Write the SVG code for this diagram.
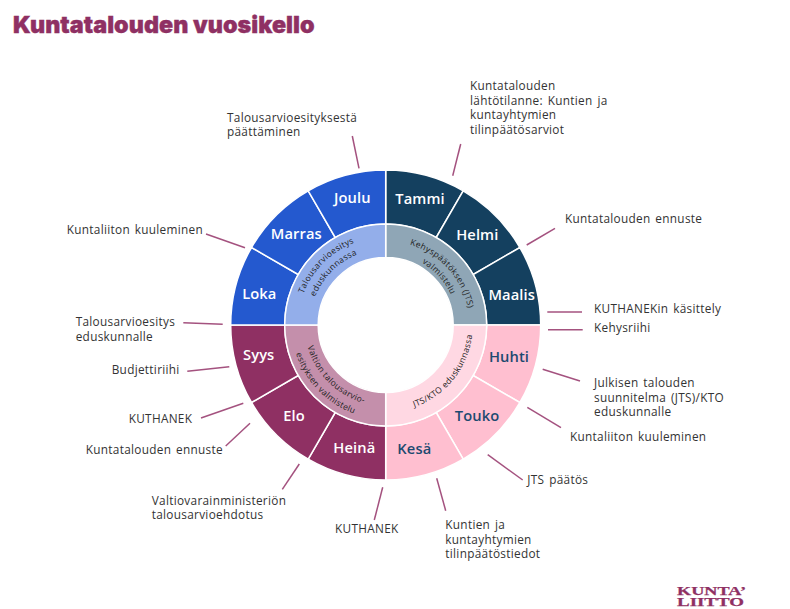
<svg xmlns="http://www.w3.org/2000/svg" width="790" height="609" viewBox="0 0 790 609">
<style>
.m{font:600 14.7px "Open Sans","Liberation Sans",sans-serif;fill:#fff;text-anchor:middle;letter-spacing:.1px}
.p{fill:#1d4a70}
.l{font:400 11.8px "Open Sans","Liberation Sans",sans-serif;fill:#333;letter-spacing:.3px;word-spacing:1.5px}
.c{font:400 8.5px "Open Sans","Liberation Sans",sans-serif;fill:#222;text-anchor:middle;letter-spacing:.35px}
.w{stroke:#fff;stroke-width:1.5}
.db{fill:#14405f}.bl{fill:#2459cf}.pl{fill:#8f3063}.pk{fill:#ffbfd0}
#connectors line{stroke:#a4527f;stroke-width:1.5}
</style>
<defs>
<path id="trA" d="M385.7 241A84 84 0 0 1 469.7 325"/>
<path id="trB" d="M385.7 253A72 72 0 0 1 457.7 325"/>
<path id="brA" d="M385.7 412A87 87 0 0 0 472.7 325"/>
<path id="blA" d="M304.7 325A81 81 0 0 0 385.7 406"/>
<path id="blB" d="M291.7 325A94 94 0 0 0 385.7 419"/>
<path id="tlA" d="M297.7 325A88 88 0 0 1 385.7 237"/>
<path id="tlB" d="M309.7 325A76 76 0 0 1 385.7 249"/>
</defs>
<rect width="790" height="609" fill="#fff"/>
<text x="13" y="32.5" style="font:900 23.3px Inter,'Liberation Sans',sans-serif;fill:#8f3063;stroke:#8f3063;stroke-width:.4;letter-spacing:.05px">Kuntatalouden vuosikello</text>

<g id="connectors">
<line x1="352.3" y1="136" x2="359" y2="168.3"/>
<line x1="460.7" y1="144" x2="452.7" y2="175.7"/>
<line x1="555" y1="228.3" x2="526.7" y2="245"/>
<line x1="547.3" y1="312" x2="582" y2="312"/>
<line x1="548" y1="329.7" x2="582.7" y2="329.7"/>
<line x1="542.7" y1="369.3" x2="580" y2="381"/>
<line x1="527.3" y1="407.3" x2="561" y2="427.7"/>
<line x1="487.7" y1="454.7" x2="522.7" y2="480"/>
<line x1="436.7" y1="478.3" x2="445.7" y2="510.7"/>
<line x1="382.7" y1="487.3" x2="374.3" y2="520"/>
<line x1="299.3" y1="464" x2="282.3" y2="489.3"/>
<line x1="250" y1="423.3" x2="225.7" y2="446"/>
<line x1="243.3" y1="403.3" x2="201" y2="418"/>
<line x1="229.3" y1="366.7" x2="187.3" y2="371.3"/>
<line x1="183.3" y1="322.7" x2="222.7" y2="324.3"/>
<line x1="206" y1="234" x2="245" y2="247.7"/>
</g>

<g id="tammi"><path class="db w" d="M385.7 170A155 155 0 0 1 463.2 190.8L436.2 237.5A101 101 0 0 0 385.7 224Z"/><text class="m" x="420" y="203.5">Tammi</text></g>
<g id="helmi"><path class="db w" d="M463.2 190.8A155 155 0 0 1 519.9 247.5L473.2 274.5A101 101 0 0 0 436.2 237.5Z"/><text class="m" x="477.3" y="239.5">Helmi</text></g>
<g id="maalis"><path class="db w" d="M519.9 247.5A155 155 0 0 1 540.7 325H486.7A101 101 0 0 0 473.2 274.5Z"/><text class="m" x="511.7" y="300">Maalis</text></g>
<g id="huhti"><path class="pk w" d="M540.7 325A155 155 0 0 1 519.9 402.5L473.2 375.5A101 101 0 0 0 486.7 325Z"/><text class="m p" x="509" y="361.7">Huhti</text></g>
<g id="touko"><path class="pk w" d="M519.9 402.5A155 155 0 0 1 463.2 459.2L436.2 412.5A101 101 0 0 0 473.2 375.5Z"/><text class="m p" x="477" y="420.7">Touko</text></g>
<g id="kesa"><path class="pk w" d="M463.2 459.2A155 155 0 0 1 385.7 480V426A101 101 0 0 0 436.2 412.5Z"/><text class="m p" x="414.3" y="453.7">Kesä</text></g>
<g id="heina"><path class="pl w" d="M385.7 480A155 155 0 0 1 308.2 459.2L335.2 412.5A101 101 0 0 0 385.7 426Z"/><text class="m" x="354.3" y="453.3">Heinä</text></g>
<g id="elo"><path class="pl w" d="M308.2 459.2A155 155 0 0 1 251.5 402.5L298.2 375.5A101 101 0 0 0 335.2 412.5Z"/><text class="m" x="294" y="420.7">Elo</text></g>
<g id="syys"><path class="pl w" d="M251.5 402.5A155 155 0 0 1 230.7 325H284.7A101 101 0 0 0 298.2 375.5Z"/><text class="m" x="258.7" y="360">Syys</text></g>
<g id="loka"><path class="bl w" d="M230.7 325A155 155 0 0 1 251.5 247.5L298.2 274.5A101 101 0 0 0 284.7 325Z"/><text class="m" x="259.3" y="299.3">Loka</text></g>
<g id="marras"><path class="bl w" d="M251.5 247.5A155 155 0 0 1 308.2 190.8L335.2 237.5A101 101 0 0 0 298.2 274.5Z"/><text class="m" x="296.3" y="239">Marras</text></g>
<g id="joulu"><path class="bl w" d="M308.2 190.8A155 155 0 0 1 385.7 170V224A101 101 0 0 0 335.2 237.5Z"/><text class="m" x="352.3" y="203.3">Joulu</text></g>

<g id="kehys"><path fill="#8fa6b6" class="w" d="M385.7 224A101 101 0 0 1 486.7 325H453.2A67.5 67.5 0 0 0 385.7 257.5Z"/>
<text class="c"><textPath href="#trA" startOffset="53%">Kehyspäätöksen (JTS)</textPath></text>
<text class="c"><textPath href="#trB" startOffset="53%">valmistelu</textPath></text></g>
<g id="jtskto"><path fill="#ffd8e3" class="w" d="M486.7 325A101 101 0 0 1 385.7 426V392.5A67.5 67.5 0 0 0 453.2 325Z"/>
<text class="c"><textPath href="#brA" startOffset="57%">JTS/KTO eduskunnassa</textPath></text></g>
<g id="valtion"><path fill="#c48fab" class="w" d="M385.7 426A101 101 0 0 1 284.7 325H318.2A67.5 67.5 0 0 0 385.7 392.5Z"/>
<text class="c"><textPath href="#blA" startOffset="50%">Valtion talousarvio-</textPath></text>
<text class="c"><textPath href="#blB" startOffset="49%">esityksen valmistelu</textPath></text></g>
<g id="talousarvio"><path fill="#93aeea" class="w" d="M284.7 325A101 101 0 0 1 385.7 224V257.5A67.5 67.5 0 0 0 318.2 325Z"/>
<text class="c"><textPath href="#tlA" startOffset="50%">Talousarvioesitys</textPath></text>
<text class="c"><textPath href="#tlB" startOffset="50%">eduskunnassa</textPath></text></g>

<g id="labels">
<text class="l" x="470" y="90">Kuntatalouden</text>
<text class="l" x="470" y="105">lähtötilanne: Kuntien ja</text>
<text class="l" x="470" y="119">kuntayhtymien</text>
<text class="l" x="470" y="134">tilinpäätösarviot</text>
<text class="l" x="227" y="121.7">Talousarvioesityksestä</text>
<text class="l" x="227" y="136">päättäminen</text>
<text class="l" x="565" y="222.7">Kuntatalouden ennuste</text>
<text class="l" x="594" y="313">KUTHANEKin käsittely</text>
<text class="l" x="594" y="332">Kehysriihi</text>
<text class="l" x="594" y="387">Julkisen talouden</text>
<text class="l" x="594" y="401.5">suunnitelma (JTS)/KTO</text>
<text class="l" x="594" y="416">eduskunnalle</text>
<text class="l" x="570" y="441">Kuntaliiton kuuleminen</text>
<text class="l" x="527.3" y="484">JTS päätös</text>
<text class="l" x="445.3" y="529.3">Kuntien ja</text>
<text class="l" x="445.3" y="544">kuntayhtymien</text>
<text class="l" x="445.3" y="558">tilinpäätöstiedot</text>
<text class="l" x="335" y="533">KUTHANEK</text>
<text class="l" x="151.7" y="505">Valtiovarainministeriön</text>
<text class="l" x="151.7" y="519.3">talousarvioehdotus</text>
<text class="l" x="85.7" y="454">Kuntatalouden ennuste</text>
<text class="l" x="128.7" y="422.7">KUTHANEK</text>
<text class="l" x="111.7" y="374.3">Budjettiriihi</text>
<text class="l" x="75.7" y="326">Talousarvioesitys</text>
<text class="l" x="75.7" y="340.7">eduskunnalle</text>
<text class="l" x="66.7" y="234">Kuntaliiton kuuleminen</text>
</g>
<g id="logo" style="font:700 13.5px 'Liberation Serif',serif;fill:#8f3063;stroke:#8f3063;stroke-width:.25">
<text x="677" y="595" textLength="69" lengthAdjust="spacingAndGlyphs">KUNTA’</text>
<text x="677" y="606" textLength="67" lengthAdjust="spacingAndGlyphs">LIITTO</text>
</g>
</svg>
